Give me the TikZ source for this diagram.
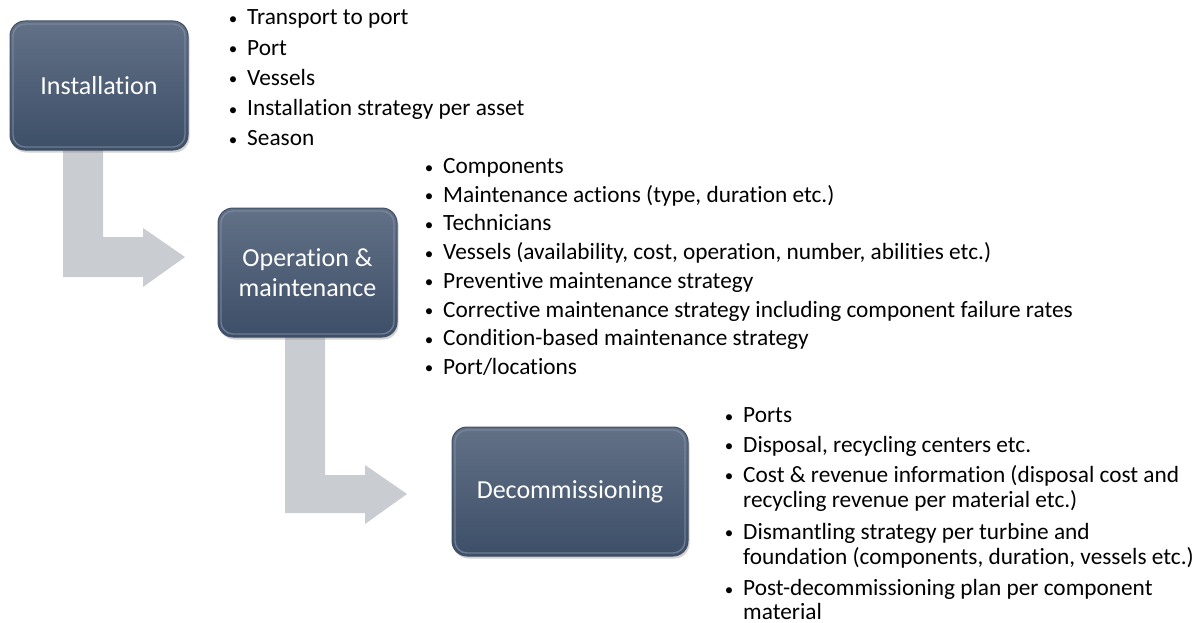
\documentclass[tikz,border=0pt]{standalone}
\usepackage{fontspec}
\setmainfont{Carlito}[Ligatures={NoCommon,NoContextual}]
\usetikzlibrary{shadows,calc}
\definecolor{arrowgray}{RGB}{201,204,209}
\definecolor{boxtop}{RGB}{98,113,134}
\definecolor{boxbot}{RGB}{61,78,104}
\definecolor{boxedge}{RGB}{66,80,102}
\definecolor{boxrim}{RGB}{128,143,163}
\newcommand{\bul}{\llap{\makebox[28pt][c]{\raisebox{0.5pt}{\fontsize{17}{17}\selectfont\textbullet}}}}
\newcommand{\nl}{\kern0pt }
\newcommand{\rimof}[1]{\draw[boxrim, line width=1.4pt, opacity=0.7, rounded corners=12pt]
  ($(#1.north west)+(3.5,3.5)$) rectangle ($(#1.south east)+(-3.5,-3.5)$);}
\tikzset{
  stage/.style={rounded corners=15pt, top color=boxtop, bottom color=boxbot,
    draw=boxedge, line width=1pt, text=white, align=center,
    minimum height=129pt, inner sep=0pt,
    font=\fontsize{26}{30}\selectfont,
    drop shadow={shadow xshift=1.5pt, shadow yshift=-2.5pt, opacity=0.35}},
  item/.style={anchor=base west, inner sep=0pt, font=\fontsize{23.3}{25}\selectfont},
  flow/.style={fill=arrowgray, draw=none}
}
\begin{document}
\begin{tikzpicture}[x=1pt, y=-1pt]
\useasboundingbox (0,0) rectangle (1201,623);
% block arrows (behind boxes)
\coordinate (a1s) at (63,140);
\coordinate (a2s) at (285,330);
\fill[flow] (a1s) -- ++(40,0) |- (143,237) -- (143,228) -- (185,257) coordinate (a1t) -- (143,287) -- (143,277) -| cycle;
\fill[flow] (a2s) -- ++(40,0) |- (365,475) -- (365,465) -- (407,494) coordinate (a2t) -- (365,524) -- (365,513) -| cycle;
% stage boxes
\node[stage, minimum width=178pt] (inst) at (99,85.5) {Installat\nl ion};
\node[stage, minimum width=179pt] (om) at (307.5,272.5) {Operat\nl ion \&\\maintenance};
\node[stage, minimum width=236pt] (dec) at (570,491.5) {Decommissioning};
\rimof{inst}
\rimof{om}
\rimof{dec}
% list 1
\node[item] (l1a) at (247,25) {\bul Transport to port};
\node[item] (l1b) at (247,55.2) {\bul Port};
\node[item] (l1c) at (247,85.4) {\bul Vessels};
\node[item] (l1d) at (247,115.6) {\bul Installat\nl ion strategy per asset};
\node[item] (l1e) at (247,145.8) {\bul Season};
% list 2
\node[item] (l2a) at (443,173.5) {\bul Components};
\node[item] (l2b) at (443,202.2) {\bul Maintenance act\nl ions (type, durat\nl ion etc.)};
\node[item] (l2c) at (443,230.9) {\bul Technicians};
\node[item] (l2d) at (443,259.6) {\bul Vessels (availabilit\nl y, cost, operat\nl ion, number, abilit\nl ies etc.)};
\node[item] (l2e) at (443,288.3) {\bul Prevent\nl ive maintenance strategy};
\node[item] (l2f) at (443,317.0) {\bul Correct\nl ive maintenance strategy including component failure rates};
\node[item] (l2g) at (443,345.7) {\bul Condit\nl ion-based maintenance strategy};
\node[item] (l2h) at (443,374.4) {\bul Port/locat\nl ions};
% list 3
\node[item] (l3a) at (743,422.5) {\bul Ports};
\node[item] (l3b) at (743,452) {\bul Disposal, recycling centers etc.};
\node[item] (l3c) at (743,482) {\bul Cost \& revenue informat\nl ion (disposal cost and};
\node[item] (l3c2) at (743,507.5) {recycling revenue per material etc.)};
\node[item] (l3d) at (743,539) {\bul Dismantling strategy per turbine and};
\node[item] (l3d2) at (743,564) {foundat\nl ion (components, durat\nl ion, vessels etc.)};
\node[item] (l3e) at (743,595.5) {\bul Post-decommissioning plan per component};
\node[item] (l3e2) at (743,619) {material};
\end{tikzpicture}
\end{document}
